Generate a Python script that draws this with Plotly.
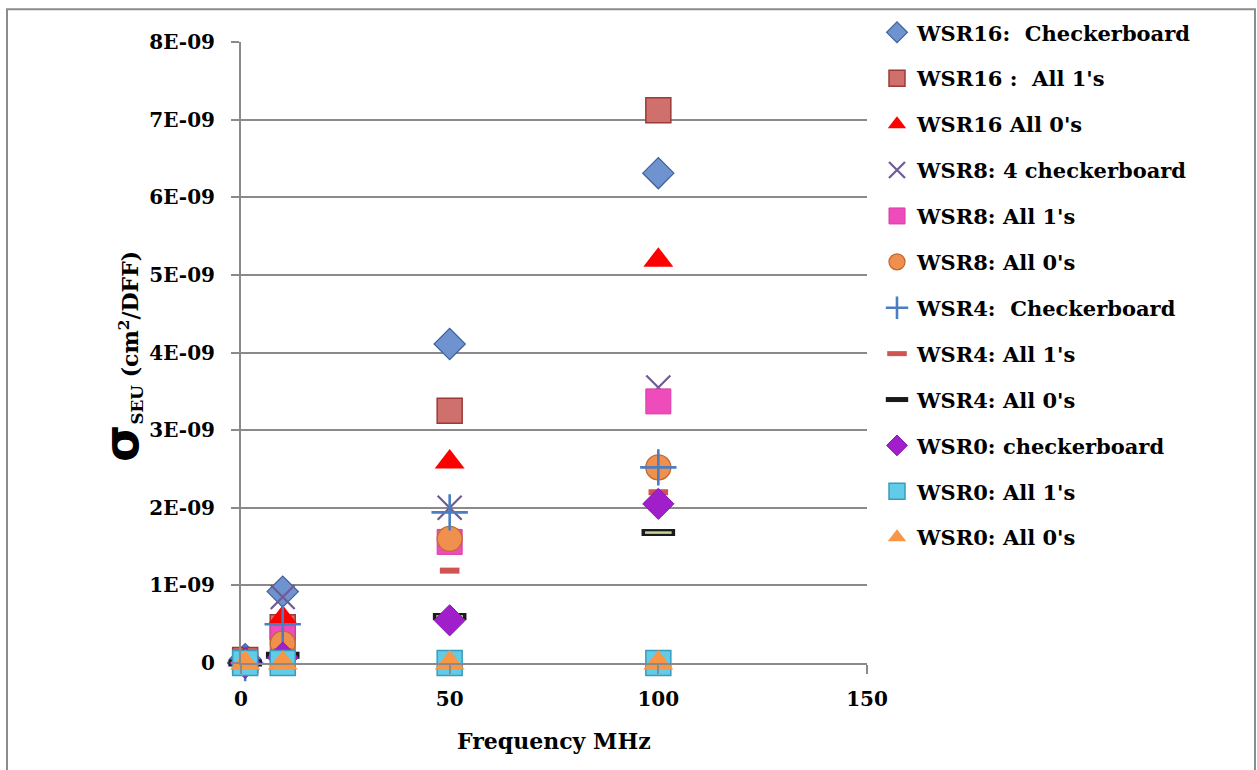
import plotly.graph_objects as go

# ---- data (frequency in MHz, cross-section in cm^2/DFF) ----
freq = [1, 10, 50, 100]

wsr16_checker = [0.05e-9, 0.92e-9, 4.11e-9, 6.31e-9]
wsr16_ones    = [0.04e-9, 0.46e-9, 3.25e-9, 7.12e-9]
wsr16_zeros   = [0.06e-9, 0.58e-9, 2.59e-9, 5.19e-9]
wsr8_checker  = [0.02e-9, 0.85e-9, 2.00e-9, 3.55e-9]
wsr8_ones     = [0.01e-9, 0.33e-9, 1.56e-9, 3.37e-9]
wsr8_zeros    = [0.00e-9, 0.25e-9, 1.60e-9, 2.52e-9]
wsr4_checker  = [0.00e-9, 0.50e-9, 1.94e-9, 2.52e-9]
wsr4_ones     = [0.00e-9, 0.15e-9, 1.19e-9, 2.20e-9]
wsr4_zeros    = [0.00e-9, 0.10e-9, 0.60e-9, 1.68e-9]
wsr0_checker  = [0.00e-9, 0.07e-9, 0.55e-9, 2.05e-9]
wsr0_ones     = [0.0, 0.0, 0.0, 0.0]
wsr0_zeros    = [0.0, 0.0, 0.0, 0.0]

series_names = [
    "WSR16:\u00a0\u00a0Checkerboard",
    "WSR16 :\u00a0\u00a0All 1's",
    "WSR16 All 0's",
    "WSR8: 4 checkerboard",
    "WSR8: All 1's",
    "WSR8: All 0's",
    "WSR4:\u00a0\u00a0Checkerboard",
    "WSR4: All 1's",
    "WSR4: All 0's",
    "WSR0: checkerboard",
    "WSR0: All 1's",
    "WSR0: All 0's",
]

y_tick_vals = [0, 1e-9, 2e-9, 3e-9, 4e-9, 5e-9, 6e-9, 7e-9, 8e-9]
y_tick_text = ["0", "1E-09", "2E-09", "3E-09", "4E-09", "5E-09", "6E-09", "7E-09", "8E-09"]
x_tick_vals = [0, 50, 100, 150]

FONT = "DejaVu Serif"

styles = [
    dict(symbol="diamond", size=24, color="#6F93CF", line=dict(color="#3C619E", width=1.2)),
    dict(symbol="square", size=25, color="#D0706D", line=dict(color="#9A3B38", width=1.5)),
    dict(symbol="triangle-up", size=26, color="#FF0000", line=dict(color="#FF0000", width=0)),
    dict(symbol="x-thin-open", size=24, color="#6E5A96", line=dict(color="#6E5A96", width=2.2)),
    dict(symbol="square", size=25, color="#EE4BBB", line=dict(color="#D83FA8", width=1)),
    dict(symbol="circle", size=25, color="#F0904F", line=dict(color="#C4692C", width=1.3)),
    dict(symbol="cross-thin-open", size=26, color="#4A7EC0", line=dict(color="#4A7EC0", width=2.6)),
    dict(symbol="line-ew-open", size=14, color="#D05552", line=dict(color="#D05552", width=6)),
    dict(symbol="line-ew-open", size=24, color="#1A1A1A", line=dict(color="#1A1A1A", width=7)),
    dict(symbol="diamond", size=24, color="#A11FCB", line=dict(color="#8A17B0", width=1)),
    dict(symbol="square", size=25, color="#62CBE8", line=dict(color="#3A9CBC", width=1.5)),
    dict(symbol="triangle-up", size=26, color="#F79646", line=dict(color="#F79646", width=0)),
]

series_vals = [wsr16_checker, wsr16_ones, wsr16_zeros, wsr8_checker, wsr8_ones, wsr8_zeros,
               wsr4_checker, wsr4_ones, wsr4_zeros, wsr0_checker, wsr0_ones, wsr0_zeros]

fig = go.Figure()
for i, (name, vals, st) in enumerate(zip(series_names, series_vals, styles)):
    fig.add_trace(go.Scatter(
        x=freq, y=vals, mode="markers", name=name, legendgroup=f"g{i}",
        cliponaxis=False,
        marker=dict(symbol=st["symbol"], size=st["size"], color=st["color"], line=st["line"]),
    ))
    if i == 8:
        # inner green fill of the WSR4 All 0's dash marker
        fig.add_trace(go.Scatter(
            x=freq, y=vals, mode="markers", legendgroup=f"g{i}", showlegend=False,
            cliponaxis=False, hoverinfo="skip",
            marker=dict(symbol="line-ew-open", size=19, color="#C3D69B",
                        line=dict(color="#C3D69B", width=2.5)),
        ))

L, R, T, B = 241, 867, 38, 663
W, H = 1257, 770
pw, ph = R - L, B - T

def px_x(p):
    return (p - L) / pw

def px_y(q):
    return (B - q) / ph

grid = "#8A8A8A"
fig.update_layout(
    width=W, height=H, autosize=False,
    margin=dict(l=L, r=W - R, t=T, b=H - B, pad=0),
    paper_bgcolor="white", plot_bgcolor="white",
    font=dict(family=FONT, size=20, color="black"),
    showlegend=True,
    legend=dict(
        x=px_x(877), y=px_y(8), xanchor="left", yanchor="top",
        font=dict(family=FONT, size=21, color="black", weight="bold"),
        tracegroupgap=15.6, itemwidth=30, bgcolor="rgba(0,0,0,0)", maxheight=900,
    ),
    xaxis=dict(
        range=[0, 150], tickvals=x_tick_vals, showgrid=False, zeroline=False,
        showline=True, linecolor=grid, linewidth=2, ticks="outside", ticklen=9,
        tickcolor=grid, tickwidth=2, ticklabelstandoff=8,
        tickfont=dict(family=FONT, size=20, color="black", weight="bold"),
    ),
    yaxis=dict(
        range=[0, 8e-9], tickvals=y_tick_vals, ticktext=y_tick_text,
        showgrid=True, gridcolor=grid, gridwidth=1.6, zeroline=False,
        showline=True, linecolor=grid, linewidth=2, ticks="outside", ticklen=8,
        tickcolor=grid, tickwidth=2, ticklabelstandoff=12,
        tickfont=dict(family=FONT, size=20, color="black", weight="bold"),
    ),
    annotations=[
        dict(text="<b>Frequency MHz</b>", xref="paper", yref="paper",
             x=0.5, y=px_y(742), xanchor="center", yanchor="middle", showarrow=False,
             font=dict(family=FONT, size=22, color="black")),
        dict(text="<b><span style='font-size:48px;font-family:DejaVu Sans'>σ</span>"
                  "<span style='font-size:24px'><sub>SEU</sub></span> (cm<sup>2</sup>/DFF)</b>",
             xref="paper", yref="paper", x=px_x(121), y=px_y(355),
             xanchor="center", yanchor="middle", textangle=-90, showarrow=False,
             font=dict(family=FONT, size=22, color="black")),
    ],
    shapes=[
        dict(type="rect", xref="paper", yref="paper",
             x0=px_x(7), x1=px_x(1255), y0=px_y(780), y1=px_y(5),
             line=dict(color="#8C8C8C", width=2), fillcolor="rgba(0,0,0,0)", layer="below"),
    ],
)

fig.write_html("out.html", config={"displayModeBar": False},
               post_script="document.body.style.margin='0';document.body.style.overflow='hidden';")
